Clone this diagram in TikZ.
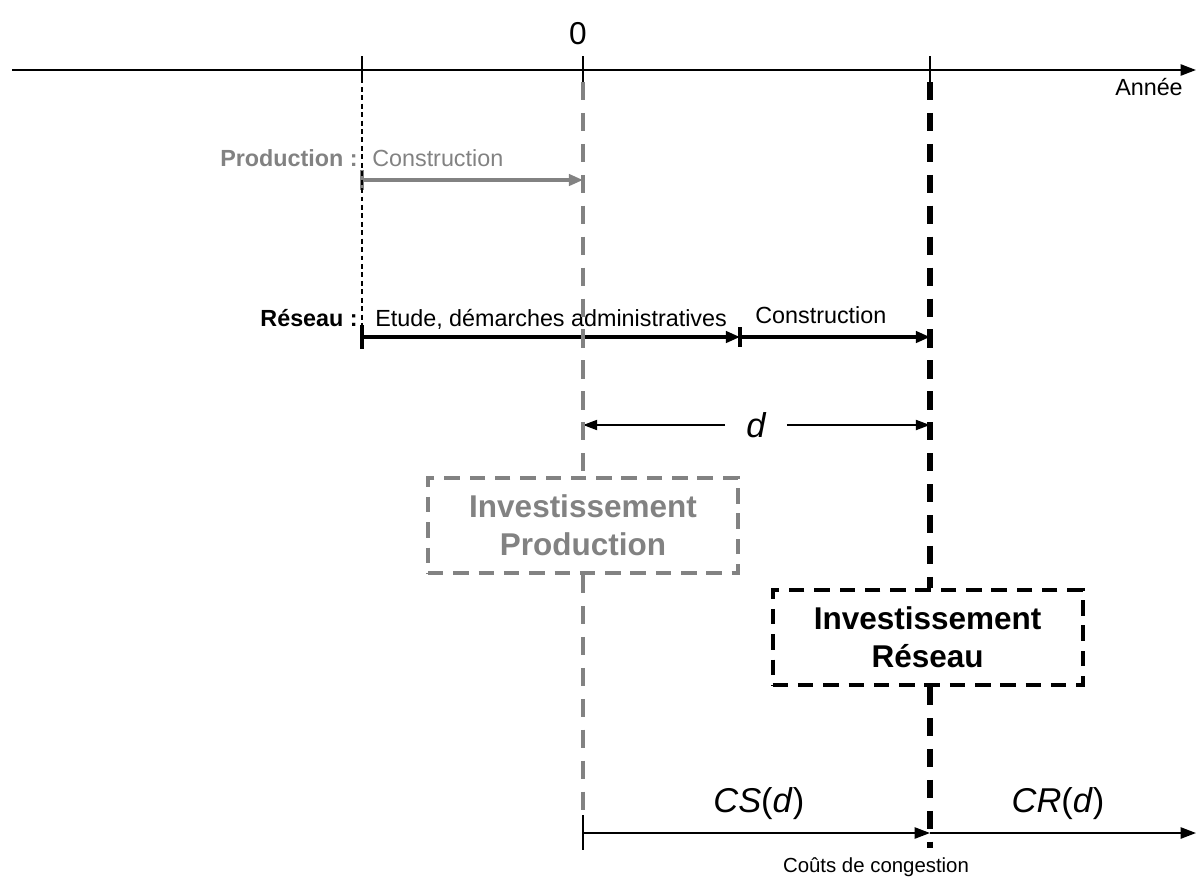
\documentclass[tikz,border=0pt]{standalone}
\usepackage{fontspec}
\setmainfont{Liberation Sans}
\usetikzlibrary{arrows.meta, positioning, calc}
\definecolor{prodgray}{RGB}{130,130,130}

\tikzset{
    axisline/.style={line width=1.4pt, -{Triangle[length=11pt, width=8pt]}},
    tickmark/.style={line width=1.4pt},
    phasearrow/.style={line width=2.4pt, -{Triangle[length=10pt, width=8pt]}},
    prodline/.style={prodgray, line width=3.4pt, dash pattern=on 13pt off 9pt},
    resline/.style={black, line width=4pt, dash pattern=on 13pt off 9pt},
    invbox/.style={draw, line width=2.8pt, dash pattern=on 11pt off 7pt,
        minimum width=7.75cm, minimum height=2.375cm, align=center,
        font=\fontsize{22.4}{27}\selectfont\bfseries},
    lbl/.style={inner sep=0pt, font=\fontsize{16.6}{20}\selectfont},
    biglbl/.style={font=\fontsize{24.5}{29}\selectfont\itshape},
}

\begin{document}
\begin{tikzpicture}
    \useasboundingbox (0,0) rectangle (30,-22.05);

    % Time axis
    \coordinate (yStart) at (0.3,-1.75);
    \coordinate (yEnd) at (29.9,-1.75);
    \coordinate (tP) at (9.05,-1.75);
    \coordinate (tZ) at (14.575,-1.75);
    \coordinate (tR) at (23.25,-1.75);
    \draw[axisline] (yStart) -- (yEnd);
    \foreach \t in {tP, tZ, tR}
        \draw[tickmark] ($(\t)+(0,0.35)$) -- ($(\t)+(0,-0.3)$);
    \node[anchor=base, inner sep=0pt, font=\fontsize{22.5}{26}\selectfont] (zero) at (14.45,-1.1) {0};
    \node[lbl, anchor=base east] (annee) at (29.575,-2.375) {Année};

    % Production: construction
    \coordinate (pA) at (9.05,-4.5);
    \coordinate (pB) at (14.575,-4.5);
    \node[lbl, anchor=base east, prodgray, font=\fontsize{16.6}{20}\selectfont\bfseries] (prodlbl) at (8.95,-4.15) {Production :};
    \node[lbl, anchor=base west, prodgray] (prodcons) at (9.3,-4.15) {Construction};
    \draw[phasearrow, prodgray] (pA) -- (pB);
    \draw[tickmark, prodgray, line width=2.4pt] ($(pA)+(0,0.25)$) -- ($(pA)+(0,-0.25)$);

    % Reseau: etude puis construction
    \coordinate (rA) at (9.05,-8.425);
    \coordinate (rB) at (18.5,-8.425);
    \coordinate (rC) at (23.25,-8.425);
    \node[lbl, anchor=base east, font=\fontsize{16.6}{20}\selectfont\bfseries] (reslbl) at (8.95,-8.15) {Réseau :};
    \node[lbl, anchor=base west] (etude) at (9.375,-8.15) {Etude, démarches administratives};
    \node[lbl, anchor=base] (rescons) at (20.52,-8.08) {Construction};
    \draw[phasearrow] (rA) -- (rB);
    \draw[phasearrow] (rB) -- (rC);
    \draw[line width=3pt] ($(rA)+(0,0.3)$) -- ($(rA)+(0,-0.3)$);
    \draw[line width=3pt] ($(rB)+(0,0.25)$) -- ($(rB)+(0,-0.25)$);
    \draw[line width=1.2pt, dash pattern=on 3.5pt off 2.5pt] (tP) -- (rA);

    % Delai d
    \node[biglbl, inner xsep=15pt] (dlab) at (18.9,-10.625) {d};
    \draw[line width=1.6pt, -{Triangle[length=10pt, width=7pt]}] (dlab.west) -- (dlab.west -| tZ);
    \draw[line width=1.6pt, -{Triangle[length=10pt, width=7pt]}] (dlab.east) -- (dlab.east -| tR);

    % Investment boxes
    \node[invbox, prodgray] (invP) at (14.575,-13.14) {Investissement\\Production};
    \node[invbox] (invR) at (23.19,-15.94) {Investissement\\Réseau};

    % Congestion axis
    \coordinate (cStart) at (14.575,-20.825);
    \coordinate (cMid) at (23.25,-20.825);
    \coordinate (cEnd) at (29.9,-20.825);
    \draw[axisline] (cStart) -- (cMid);
    \draw[axisline] (cMid) -- (cEnd);
    \draw[tickmark] ($(cStart)+(0,0.45)$) -- ($(cStart)+(0,-0.425)$);
    \node[biglbl, anchor=base, inner sep=0pt] (cs) at (18.97,-20.3) {CS\textup{(}d\textup{)}};
    \node[biglbl, anchor=base, inner sep=0pt] (cr) at (26.45,-20.3) {CR\textup{(}d\textup{)}};
    \node[inner sep=0pt, anchor=base, font=\fontsize{14.5}{17}\selectfont] (couts) at (21.9,-21.8) {Coûts de congestion};

    % Vertical guides
    \draw[prodline] ($(tZ)+(0,-0.3)$) -- (invP.north);
    \draw[prodline] (invP.south) -- ($(cStart)+(0,0.45)$);
    \draw[resline] ($(tR)+(0,-0.3)$) -- (tR |- invR.north);
    \draw[resline] (tR |- invR.south) -- ($(cMid)+(0,-0.375)$);
\end{tikzpicture}
\end{document}
